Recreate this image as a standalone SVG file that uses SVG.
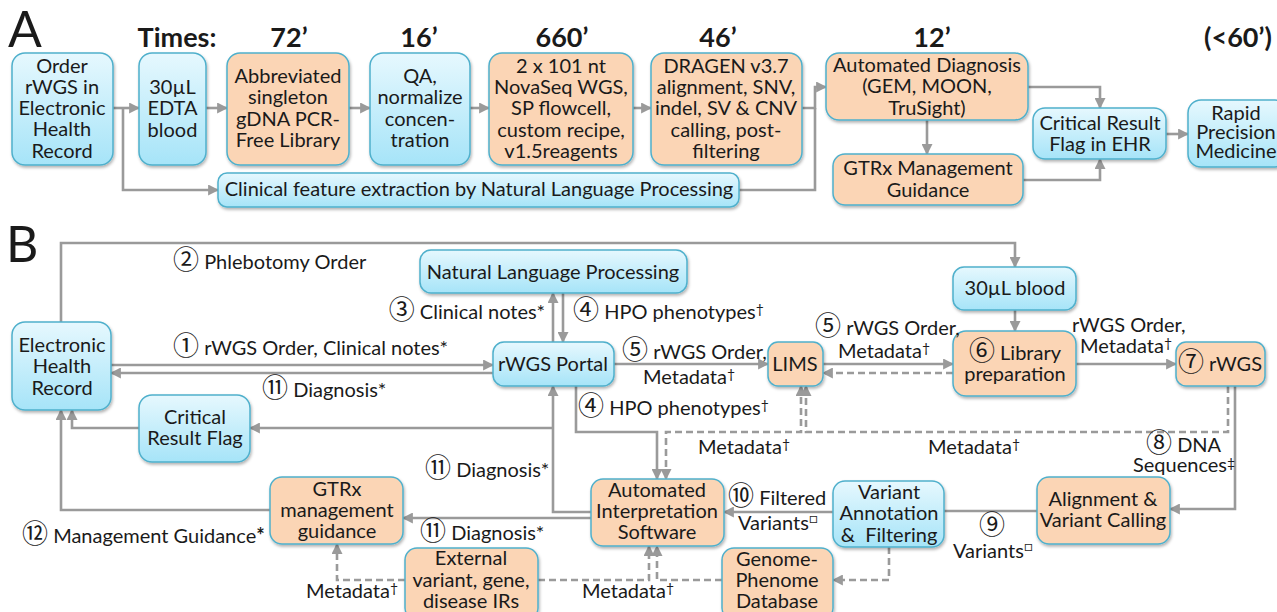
<svg xmlns="http://www.w3.org/2000/svg" width="1277" height="612" viewBox="0 0 1277 612">
<defs>
<linearGradient id="gb" x1="0" y1="0" x2="0" y2="1">
<stop offset="0" stop-color="#e6f8fe"/>
<stop offset="1" stop-color="#a6e4f8"/>
</linearGradient>
<filter id="sh" x="-10%" y="-10%" width="125%" height="130%">
<feDropShadow dx="1" dy="2" stdDeviation="1.5" flood-color="#000" flood-opacity="0.3"/>
</filter>
<marker id="ar" viewBox="0 0 10 10" refX="9" refY="5" markerWidth="11" markerHeight="11" markerUnits="userSpaceOnUse" orient="auto-start-reverse">
<path d="M0,0 L10,5 L0,10 z" fill="#9a9a9a"/>
</marker>
<style>
.b{fill:url(#gb);stroke:#4fb0cc;stroke-width:1.5;filter:url(#sh)}
.o{fill:#fbd5b5;stroke:#4fb0cc;stroke-width:1.5;filter:url(#sh)}
text{font-family:Lato,"Liberation Sans","DejaVu Sans",sans-serif;fill:#1a1a1a}
.t{font-size:20px;text-anchor:middle}
.l{font-size:20px}
.n{font-family:"Noto Sans CJK JP","DejaVu Sans",sans-serif;font-size:26px;font-weight:normal}
.s{font-size:14px}
.big{font-size:50px}
.tm{font-size:27px;font-weight:bold;text-anchor:middle}
.c{fill:none;stroke:#9a9a9a;stroke-width:2.6}
.a{marker-end:url(#ar)}
.d{stroke-dasharray:7 4}
</style>
</defs>

<text class="big" x="8" y="47">A</text>
<text class="big" x="6" y="262">B</text>
<text class="tm" x="177" y="47">Times:</text>
<text class="tm" x="289" y="47">72’</text>
<text class="tm" x="419" y="47">16’</text>
<text class="tm" x="562" y="47">660’</text>
<text class="tm" x="718" y="47">46’</text>
<text class="tm" x="932" y="47">12’</text>
<text class="tm" x="1238" y="47">(&lt;60’)</text>

<g id="connectors">
<path class="c a" d="M113,108 H139"/>
<path class="c a" d="M123,108 V190 H218"/>
<path class="c a" d="M206,108 H227"/>
<path class="c a" d="M349,108 H370"/>
<path class="c a" d="M470,108 H489"/>
<path class="c a" d="M633,108 H651"/>
<path class="c a" d="M802,108 H815 V87 H826"/>
<path class="c" d="M739,190 H815 V108"/>
<path class="c a" d="M927,120 V154"/>
<path class="c a" d="M1028,87 H1100 V108"/>
<path class="c a" d="M1023,180 H1100 V159"/>
<path class="c a" d="M1166,134 H1188"/>

<path class="c a" d="M61,322 V243 H1015 V267"/>
<path class="c a" d="M111,365 H493"/>
<path class="c a" d="M493,373 H111"/>
<path class="c a" d="M553,342 V293"/>
<path class="c a" d="M563,293 V342"/>
<path class="c a" d="M614,364 H768"/>
<path class="c a" d="M823,364 H953"/>
<path class="c a d" d="M953,373 H823"/>
<path class="c a" d="M1015,310 V331"/>
<path class="c a" d="M1076,364 H1176"/>
<path class="c a" d="M576,386 V432 H657 V479"/>
<path class="c a d" d="M801,386 V432 H666 V479" marker-start="url(#ar)"/>
<path class="c a d" d="M1228,386 V432 H806 V386"/>
<path class="c a" d="M591,512 H553 V386"/>
<path class="c a" d="M553,428 H250"/>
<path class="c a" d="M139,428 H72 V410"/>
<path class="c a" d="M270,510 H61 V410"/>
<path class="c a" d="M591,518 H403"/>
<path class="c a" d="M833,512 H724"/>
<path class="c" d="M1037,511 H944"/>
<path class="c a" d="M1235,386 V509 H1170"/>
<path class="c a d" d="M889,547 V580 H833"/>
<path class="c a d" d="M722,580 H657 V546"/>
<path class="c a d" d="M538,580 H649 V546"/>
<path class="c a d" d="M405,580 H337 V544"/>
</g>

<g id="a-order"><rect class="b" x="12" y="53" width="101" height="112" rx="13"/>
<text class="t" x="62" y="73">Order</text><text class="t" x="62" y="94">rWGS in</text><text class="t" x="62" y="115">Electronic</text><text class="t" x="62" y="136">Health</text><text class="t" x="62" y="158">Record</text></g>
<g id="a-blood"><rect class="b" x="139" y="53" width="67" height="112" rx="13"/>
<text class="t" x="172.5" y="94">30µL</text><text class="t" x="172.5" y="115">EDTA</text><text class="t" x="172.5" y="137">blood</text></g>
<g id="a-library"><rect class="o" x="227" y="53" width="122" height="112" rx="13"/>
<text class="t" x="288" y="83">Abbreviated</text><text class="t" x="288" y="104">singleton</text><text class="t" x="288" y="126">gDNA PCR-</text><text class="t" x="288" y="147">Free Library</text></g>
<g id="a-qa"><rect class="b" x="370" y="53" width="100" height="112" rx="13"/>
<text class="t" x="420" y="83">QA,</text><text class="t" x="420" y="104">normalize</text><text class="t" x="420" y="126">concen-</text><text class="t" x="420" y="147">tration</text></g>
<g id="a-seq"><rect class="o" x="489" y="53" width="144" height="112" rx="13"/>
<text class="t" x="561" y="73">2 x 101 nt</text><text class="t" x="561" y="94">NovaSeq WGS,</text><text class="t" x="561" y="115">SP flowcell,</text><text class="t" x="561" y="137">custom recipe,</text><text class="t" x="561" y="158">v1.5reagents</text></g>
<g id="a-dragen"><rect class="o" x="651" y="53" width="151" height="112" rx="13"/>
<text class="t" x="726" y="73">DRAGEN v3.7</text><text class="t" x="726" y="94">alignment, SNV,</text><text class="t" x="726" y="115">indel, SV &amp; CNV</text><text class="t" x="726" y="137">calling, post-</text><text class="t" x="726" y="158">filtering</text></g>
<g id="a-autodx"><rect class="o" x="826" y="53" width="202" height="67" rx="13"/>
<text class="t" x="927" y="72">Automated Diagnosis</text><text class="t" x="927" y="93">(GEM, MOON,</text><text class="t" x="927" y="115">TruSight)</text></g>
<g id="a-gtrx"><rect class="o" x="833" y="154" width="190" height="51" rx="12"/>
<text class="t" x="928" y="175">GTRx Management</text><text class="t" x="928" y="197">Guidance</text></g>
<g id="a-flag"><rect class="b" x="1033" y="108" width="133" height="51" rx="12"/>
<text class="t" x="1100" y="130">Critical Result</text><text class="t" x="1100" y="151">Flag in EHR</text></g>
<g id="a-rapid"><rect class="b" x="1188" y="100" width="100" height="67" rx="13"/>
<text class="t" x="1236" y="120">Rapid</text><text class="t" x="1236" y="139">Precision</text><text class="t" x="1236" y="158">Medicine</text></g>
<g id="a-nlp"><rect class="b" x="218" y="173" width="521" height="34" rx="9"/>
<text class="t" x="479" y="196">Clinical feature extraction by Natural Language Processing</text></g>

<g id="b-ehr"><rect class="b" x="12" y="322" width="99" height="88" rx="13"/>
<text class="t" x="62" y="352">Electronic</text><text class="t" x="62" y="373">Health</text><text class="t" x="62" y="395">Record</text></g>
<g id="b-nlp"><rect class="b" x="420" y="250" width="267" height="43" rx="11"/>
<text class="t" x="553" y="279">Natural Language Processing</text></g>
<g id="b-blood"><rect class="b" x="953" y="267" width="123" height="43" rx="11"/>
<text class="t" x="1015" y="295">30µL blood</text></g>
<g id="b-portal"><rect class="b" x="493" y="342" width="121" height="44" rx="11"/>
<text class="t" x="553" y="371">rWGS Portal</text></g>
<g id="b-lims"><rect class="o" x="768" y="342" width="55" height="44" rx="10"/>
<text class="t" x="795" y="371">LIMS</text></g>
<g id="b-libprep"><rect class="o" x="953" y="331" width="123" height="65" rx="13"/>
<text class="t" x="1015" y="360"><tspan class="n">⑥</tspan> Library</text><text class="t" x="1015" y="381">preparation</text></g>
<g id="b-rwgs"><rect class="o" x="1176" y="342" width="89" height="44" rx="10"/>
<text class="t" x="1220" y="371"><tspan class="n">⑦</tspan> rWGS</text></g>
<g id="b-flag"><rect class="b" x="139" y="395" width="111" height="67" rx="13"/>
<text class="t" x="195" y="424">Critical</text><text class="t" x="195" y="445">Result Flag</text></g>
<g id="b-gtrx"><rect class="o" x="270" y="477" width="133" height="67" rx="12"/>
<text class="t" x="337" y="496">GTRx</text><text class="t" x="337" y="517">management</text><text class="t" x="337" y="538">guidance</text></g>
<g id="b-ais"><rect class="o" x="591" y="479" width="133" height="67" rx="12"/>
<text class="t" x="657" y="497">Automated</text><text class="t" x="657" y="518">Interpretation</text><text class="t" x="657" y="539">Software</text></g>
<g id="b-vaf"><rect class="b" x="833" y="481" width="111" height="66" rx="12"/>
<text class="t" x="889" y="499">Variant</text><text class="t" x="889" y="520">Annotation</text><text class="t" x="889" y="542" xml:space="preserve">&amp;  Filtering</text></g>
<g id="b-align"><rect class="o" x="1037" y="477" width="133" height="67" rx="12"/>
<text class="t" x="1103" y="506">Alignment &amp;</text><text class="t" x="1103" y="527">Variant Calling</text></g>
<g id="b-external"><rect class="o" x="405" y="548" width="133" height="72" rx="12"/>
<text class="t" x="471" y="565">External</text><text class="t" x="471" y="587">variant, gene,</text><text class="t" x="471" y="608">disease IRs</text></g>
<g id="b-gpd"><rect class="o" x="722" y="548" width="111" height="72" rx="12"/>
<text class="t" x="777" y="566">Genome-</text><text class="t" x="777" y="587">Phenome</text><text class="t" x="777" y="608">Database</text></g>

<g id="labels">
<text class="l" x="173" y="269"><tspan class="n">②</tspan> Phlebotomy Order</text>
<text class="l" x="173" y="355"><tspan class="n">①</tspan> rWGS Order, Clinical notes*</text>
<text class="l" x="262" y="397"><tspan class="n">⑪</tspan> Diagnosis*</text>
<text class="l" x="545" y="319" text-anchor="end"><tspan class="n">③</tspan> Clinical notes*</text>
<text class="l" x="573" y="319"><tspan class="n">④</tspan> HPO phenotypes<tspan class="s" dy="-5">†</tspan></text>
<text class="l" x="622" y="359"><tspan class="n">⑤</tspan> rWGS Order,</text>
<text class="l" x="643" y="384">Metadata<tspan class="s" dy="-5">†</tspan></text>
<text class="l" x="815" y="335"><tspan class="n">⑤</tspan> rWGS Order,</text>
<text class="l" x="838" y="358">Metadata<tspan class="s" dy="-5">†</tspan></text>
<text class="l" x="1072" y="332">rWGS Order,</text>
<text class="l" x="1080" y="353">Metadata<tspan class="s" dy="-5">†</tspan></text>
<text class="l" x="578" y="415"><tspan class="n">④</tspan> HPO phenotypes<tspan class="s" dy="-5">†</tspan></text>
<text class="l" x="698" y="454">Metadata<tspan class="s" dy="-5">†</tspan></text>
<text class="l" x="928" y="454">Metadata<tspan class="s" dy="-5">†</tspan></text>
<text class="l" x="1146" y="452"><tspan class="n">⑧</tspan> DNA</text>
<text class="l" x="1133" y="472">Sequences<tspan class="s" dy="-4">‡</tspan></text>
<text class="l" x="425" y="477"><tspan class="n">⑪</tspan> Diagnosis*</text>
<text class="l" x="728" y="505"><tspan class="n">⑩</tspan> Filtered</text>
<text class="l" x="738" y="530">Variants<tspan class="s" dy="-7">□</tspan></text>
<text class="l" x="420" y="540"><tspan class="n">⑪</tspan> Diagnosis*</text>
<text class="l" x="22" y="543"><tspan class="n">⑫</tspan> Management Guidance<tspan font-weight="bold">*</tspan></text>
<text class="l" x="992" y="534" text-anchor="middle"><tspan class="n">⑨</tspan></text>
<text class="l" x="953" y="558">Variants<tspan class="s" dy="-7">□</tspan></text>
<text class="l" x="306" y="598">Metadata<tspan class="s" dy="-5">†</tspan></text>
<text class="l" x="582" y="598">Metadata<tspan class="s" dy="-5">†</tspan></text>
</g>
</svg>
